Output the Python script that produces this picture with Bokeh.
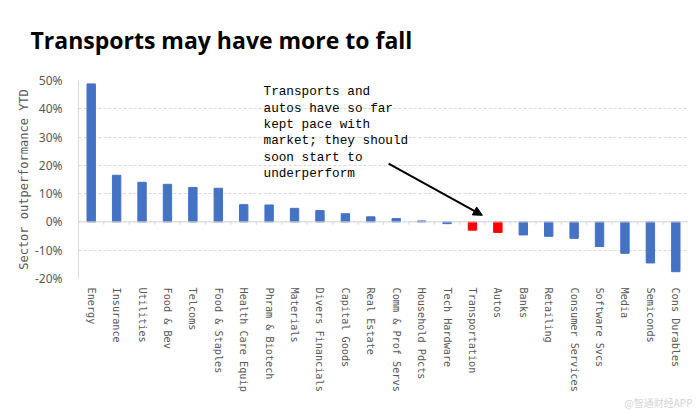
import math
from bokeh.plotting import figure
from bokeh.models import (Range1d, FixedTicker, NumeralTickFormatter, Span, Label,
                          Arrow, NormalHead, ColumnDataSource, Title)
from bokeh.embed import file_html
from bokeh.resources import INLINE

categories = ["Energy", "Insurance", "Utilities", "Food & Bev", "Telcoms", "Food & Staples",
              "Health Care Equip", "Phram & Biotech", "Materials", "Divers Financials",
              "Capital Goods", "Real Estate", "Comm & Prof Servs", "Household Pdcts",
              "Tech Hardware", "Transportation", "Autos", "Banks", "Retailing",
              "Consumer Services", "Software Svcs", "Media", "Semiconds", "Cons Durables"]
values = [0.488, 0.165, 0.140, 0.133, 0.122, 0.119, 0.061, 0.060, 0.048, 0.040,
          0.029, 0.018, 0.012, 0.0035, -0.006, -0.029, -0.037, -0.046, -0.051,
          -0.058, -0.087, -0.111, -0.145, -0.176]
highlight = ["Transportation", "Autos"]
y_ticks = [-0.2, -0.1, 0.0, 0.1, 0.2, 0.3, 0.4, 0.5]

BLUE = "#4472C4"
RED = "#FF0000"
GRAY_TXT = "#595959"
GRID = "#D9D9D9"

xs = list(range(len(categories)))
colors = [RED if c in highlight else BLUE for c in categories]
src = ColumnDataSource(dict(x=xs, top=values, color=colors))

p = figure(width=700, height=411, output_backend="svg", toolbar_location=None,
           x_range=Range1d(-0.5, len(categories) - 0.5), y_range=Range1d(-0.2, 0.5),
           min_border_left=78, min_border_right=12, min_border_top=79, min_border_bottom=132)
p.outline_line_color = None

# title
p.title.text = "Transports may have more to fall"
p.title.align = "left"
p.title.offset = -48
p.title.text_font = "Open Sans"
p.title.text_font_style = "bold"
p.title.text_font_size = "23px"
p.title.text_color = "#000000"
p.title.vertical_align = "top"
p.title.standoff = 46

p.vbar(x="x", top="top", bottom=0, width=0.33, color="color", source=src)

# zero line with small category ticks
p.add_layout(Span(location=0, dimension="width", line_color=GRID, line_width=1))
bounds = [i + 0.5 for i in xs[:-1]]
p.segment(x0=bounds, x1=bounds, y0=[0] * len(bounds), y1=[-0.01] * len(bounds),
          line_color=GRID, line_width=1)

# axes
p.xaxis.ticker = FixedTicker(ticks=xs)
p.xaxis.major_label_overrides = {i: c for i, c in zip(xs, categories)}
p.xaxis.major_label_orientation = -math.pi / 2
p.xaxis.axis_line_color = None
p.xaxis.major_tick_line_color = None
p.xaxis.minor_tick_line_color = None
p.xaxis.major_label_text_font = "DejaVu Sans Mono"
p.xaxis.major_label_text_font_size = "10.2px"
p.xaxis.major_label_text_color = GRAY_TXT
p.xaxis.major_label_standoff = 3

p.yaxis.ticker = FixedTicker(ticks=y_ticks)
p.yaxis.formatter = NumeralTickFormatter(format="0%")
p.yaxis.axis_line_color = GRID
p.yaxis.major_tick_line_color = None
p.yaxis.minor_tick_line_color = None
p.yaxis.major_label_text_font = "Noto Sans"
p.yaxis.major_label_text_font_size = "12px"
p.yaxis.major_label_text_color = GRAY_TXT
p.yaxis.major_label_standoff = 10
p.yaxis.axis_label = "Sector outperformance YTD"
p.yaxis.axis_label_text_font = "DejaVu Sans Mono"
p.yaxis.axis_label_text_font_size = "12px"
p.yaxis.axis_label_text_font_style = "normal"
p.yaxis.axis_label_text_color = GRAY_TXT
p.yaxis.axis_label_standoff = 1

p.xgrid.grid_line_color = None
p.ygrid.grid_line_color = GRID
p.ygrid.grid_line_dash = "3 2"

# annotation
p.add_layout(Label(x=6.78, y=0.487,
                   text="Transports and\nautos have so far\nkept pace with\nmarket; they should\nsoon start to\nunderperform",
                   text_font="Liberation Mono", text_font_size="12.7px", text_color="#000000",
                   text_baseline="top", text_align="left", text_line_height=1.09))
p.add_layout(Arrow(x_start=11.7, y_start=0.206, x_end=15.39, y_end=0.0235,
                   line_color="black", line_width=2,
                   end=NormalHead(size=9, fill_color="black", line_color="black")))

# watermark
p.add_layout(Title(text="@智通财经APP", align="right", text_font="Noto Sans CJK SC",
                   text_font_size="10px", text_font_style="normal", text_color="#D5D5D5",
                   standoff=0, offset=-4, vertical_align="top"), "below")

open("out.html", "w").write(file_html(p, INLINE))
